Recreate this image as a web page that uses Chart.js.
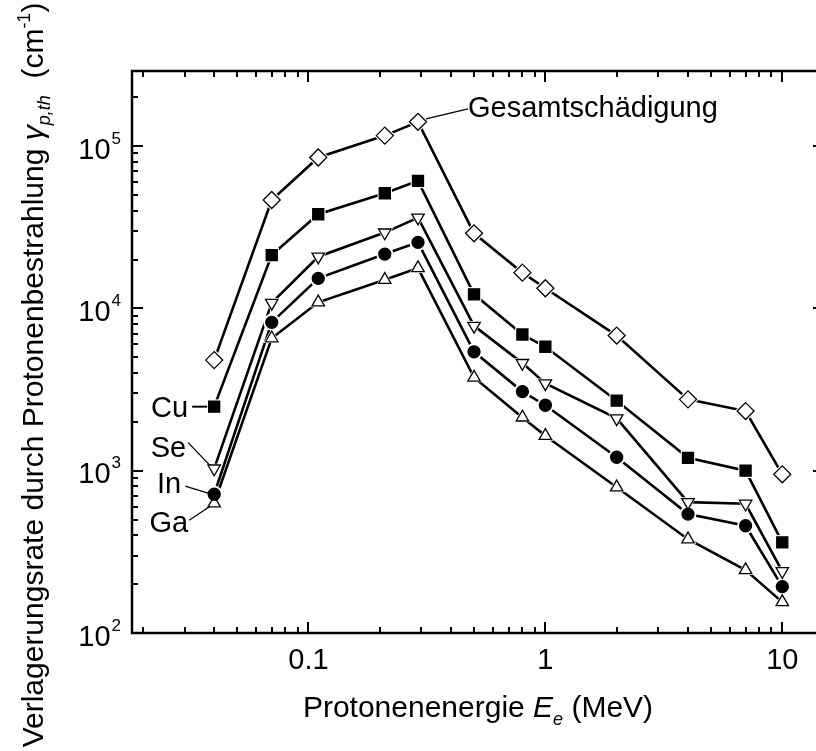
<!DOCTYPE html>
<html lang="de">
<head>
  <meta charset="UTF-8">
  <title>Verlagerungsrate durch Protonenbestrahlung</title>
  <script src="https://cdn.jsdelivr.net/npm/chart.js"></script>
  <style>
    html, body { margin: 0; padding: 0; background: #fff; overflow: hidden; }
    #wrap { width: 830px; height: 751px; }
  </style>
</head>
<body>
  <div id="wrap"><canvas id="chart" width="830" height="751"></canvas></div>

  <script>
    // Protonenenergie E_e (MeV)
    const energie = [0.04, 0.07, 0.11, 0.21, 0.29, 0.5, 0.8, 1, 2, 4, 7, 10];

    // Verlagerungsrate (cm^-1)
    const gesamt = [4800, 46500, 85000, 116000, 141000, 29000, 16600, 13300, 6800, 2750, 2330, 950];
    const cu     = [2480, 21300, 38000, 51200, 61000, 12200, 6900, 5800, 2700, 1200, 1000, 362];
    const se     = [1030, 10800, 20800, 29300, 36200, 7800, 4600, 3450, 2100, 640, 625, 240];
    const inn    = [716, 8200, 15300, 21600, 25500, 5400, 3070, 2530, 1210, 540, 458, 193];
    const ga     = [630, 6550, 10900, 15000, 17700, 3750, 2130, 1640, 790, 378, 244, 155];

    // Achsen
    const xMin = 0.018, xMax = 15;
    const yMin = 100, yMax = 290000;
    const xTickValues = [0.1, 1, 10];
    const xTickLabels = ['0.1', '1', '10'];
    const yTickValues = [100, 1000, 10000, 100000];
    const yTickExp = ['2', '3', '4', '5'];

    const FONT = '"Liberation Sans", Arial, Helvetica, sans-serif';

    const series = [
      { name: 'Gesamtschädigung', data: gesamt, style: 'rectRot', r: 8.5, fill: '#fff', rot: 0 },
      { name: 'Cu', data: cu, style: 'rect', r: 7.8, fill: '#000', rot: 0 },
      { name: 'Se', data: se, style: 'triangle', r: 7.2, fill: '#fff', rot: 180 },
      { name: 'In', data: inn, style: 'circle', r: 6, fill: '#000', rot: 0 },
      { name: 'Ga', data: ga, style: 'triangle', r: 7.2, fill: '#fff', rot: 0 }
    ];

    const pts = arr => energie.map((e, i) => ({ x: e, y: arr[i] }));

    const datasets = [];
    series.forEach(s => {
      // Linie
      datasets.push({
        label: s.name, data: pts(s.data), order: 30,
        borderColor: '#000', borderWidth: 2.6, tension: 0,
        pointRadius: 0, fill: false
      });
      // weisser Rand um die Symbole (Luecke in der Linie)
      datasets.push({
        label: s.name + ' halo', data: pts(s.data), order: 20, showLine: false,
        pointStyle: s.style, pointRotation: s.rot, pointRadius: s.r + 2.5,
        pointBackgroundColor: '#fff', pointBorderColor: '#fff', pointBorderWidth: 0
      });
      // Symbole
      datasets.push({
        label: s.name + ' pts', data: pts(s.data), order: 10, showLine: false,
        pointStyle: s.style, pointRotation: s.rot, pointRadius: s.r,
        pointBackgroundColor: s.fill, pointBorderColor: '#000', pointBorderWidth: 1.3
      });
    });

    function minorValues(min, max) {
      const out = [];
      for (let d = 0.001; d <= 1e6; d *= 10) {
        for (let m = 1; m <= 9; m++) {
          const v = +(m * d).toPrecision(6);
          if (v >= min && v <= max) out.push({ v, major: m === 1 });
        }
      }
      return out;
    }

    function drawRich(ctx, segs, x, y, align) {
      let total = 0;
      segs.forEach(s => { ctx.font = s.f + ' ' + FONT; s.w = ctx.measureText(s.t).width; total += s.w; });
      let cx = align === 'center' ? x - total / 2 : (align === 'right' ? x - total : x);
      ctx.textAlign = 'left';
      ctx.textBaseline = 'alphabetic';
      segs.forEach(s => {
        ctx.font = s.f + ' ' + FONT;
        ctx.fillText(s.t, cx, y + (s.dy || 0));
        cx += s.w;
      });
    }

    const framePlugin = {
      id: 'frame',
      afterDraw(chart) {
        const ctx = chart.ctx;
        const { left, right, top, bottom } = chart.chartArea;
        const xs = chart.scales.x, ys = chart.scales.y;
        ctx.save();
        ctx.strokeStyle = '#000';
        ctx.fillStyle = '#000';

        // Rahmen
        ctx.lineWidth = 2.5;
        ctx.strokeRect(left, top, right - left, bottom - top);

        // Ticks nach innen
        ctx.lineWidth = 2;
        ctx.beginPath();
        minorValues(xMin, xMax).forEach(t => {
          const px = Math.round(xs.getPixelForValue(t.v));
          const len = t.major ? 11 : 6;
          ctx.moveTo(px, bottom); ctx.lineTo(px, bottom - len);
          ctx.moveTo(px, top); ctx.lineTo(px, top + len);
        });
        minorValues(yMin, yMax).forEach(t => {
          const py = Math.round(ys.getPixelForValue(t.v));
          const len = t.major ? 11 : 6;
          ctx.moveTo(left, py); ctx.lineTo(left + len, py);
          ctx.moveTo(right, py); ctx.lineTo(right - len, py);
        });
        ctx.stroke();

        // Beschriftung x
        ctx.font = '29px ' + FONT;
        ctx.textAlign = 'center';
        ctx.textBaseline = 'alphabetic';
        xTickValues.forEach((v, i) => {
          ctx.fillText(xTickLabels[i], xs.getPixelForValue(v), bottom + 36);
        });

        // Beschriftung y (10^n)
        yTickValues.forEach((v, i) => {
          const py = ys.getPixelForValue(v);
          ctx.font = '17px ' + FONT;
          ctx.textAlign = 'right';
          ctx.fillText(yTickExp[i], left - 11, py - 2.5);
          const ew = ctx.measureText(yTickExp[i]).width;
          ctx.font = '29px ' + FONT;
          ctx.fillText('10', left - 12 - ew, py + 12.5);
        });

        // Achsentitel x
        drawRich(ctx, [
          { t: 'Protonenenergie ', f: '30px' },
          { t: 'E', f: 'italic 30px' },
          { t: 'e', f: 'italic 18px', dy: 8 },
          { t: ' (MeV)', f: '30px' }
        ], (left + right) / 2, 717, 'center');

        // Achsentitel y
        ctx.save();
        ctx.translate(43, 375);
        ctx.rotate(-Math.PI / 2);
        drawRich(ctx, [
          { t: 'Verlagerungsrate durch Protonenbestrahlung ', f: '30px' },
          { t: '\u03b3', f: 'italic 30px' },
          { t: 'p,th', f: 'italic 18px', dy: 7 },
          { t: '  (cm', f: '30px' },
          { t: '-1', f: '18px', dy: -13 },
          { t: ')', f: '30px' }
        ], 0, 0, 'center');
        ctx.restore();

        // Beschriftung der Kurven mit Hinweislinien
        const at = (arr, i) => [xs.getPixelForValue(energie[i]), ys.getPixelForValue(arr[i])];
        const labels = [
          { t: 'Cu', arr: cu, i: 0, tx: -26, ty: 10, l: [-22, 0, -7, 0], w: 2 },
          { t: 'Se', arr: se, i: 0, tx: -28, ty: -12, l: [-26, -26, -4, -3], w: 1.3 },
          { t: 'In', arr: inn, i: 0, tx: -33, ty: -1, l: [-29, -8, -6, -1], w: 1.3 },
          { t: 'Ga', arr: ga, i: 0, tx: -26, ty: 29, l: [-25, 17, -4, 3], w: 1.3 }
        ];
        ctx.font = '29px ' + FONT;
        labels.forEach(a => {
          const [px, py] = at(a.arr, a.i);
          ctx.textAlign = 'right';
          ctx.fillText(a.t, px + a.tx, py + a.ty);
          ctx.lineWidth = a.w;
          ctx.beginPath();
          ctx.moveTo(px + a.l[0], py + a.l[1]);
          ctx.lineTo(px + a.l[2], py + a.l[3]);
          ctx.stroke();
        });
        {
          const [px, py] = at(gesamt, 4);
          ctx.textAlign = 'left';
          ctx.fillText('Gesamtschädigung', px + 50, py - 5);
          ctx.lineWidth = 1.3;
          ctx.beginPath();
          ctx.moveTo(px + 8, py - 3);
          ctx.lineTo(px + 50, py - 13);
          ctx.stroke();
        }
        ctx.restore();
      }
    };

    const ctx = document.getElementById('chart').getContext('2d');
    new Chart(ctx, {
      type: 'line',
      data: { datasets },
      options: {
        responsive: false,
        animation: false,
        devicePixelRatio: 1,
        layout: { autoPadding: false, padding: { top: 71, right: 6, left: 0, bottom: 0 } },
        plugins: { legend: { display: false }, tooltip: { enabled: false } },
        events: [],
        scales: {
          x: {
            type: 'logarithmic', min: xMin, max: xMax, bounds: 'data',
            ticks: { display: false }, grid: { display: false }, border: { display: false },
            afterFit: s => { s.height = 118; }
          },
          y: {
            type: 'logarithmic', min: yMin, max: yMax, bounds: 'data',
            ticks: { display: false }, grid: { display: false }, border: { display: false },
            afterFit: s => { s.width = 132; }
          }
        }
      },
      plugins: [framePlugin]
    });
  </script>
</body>
</html>
